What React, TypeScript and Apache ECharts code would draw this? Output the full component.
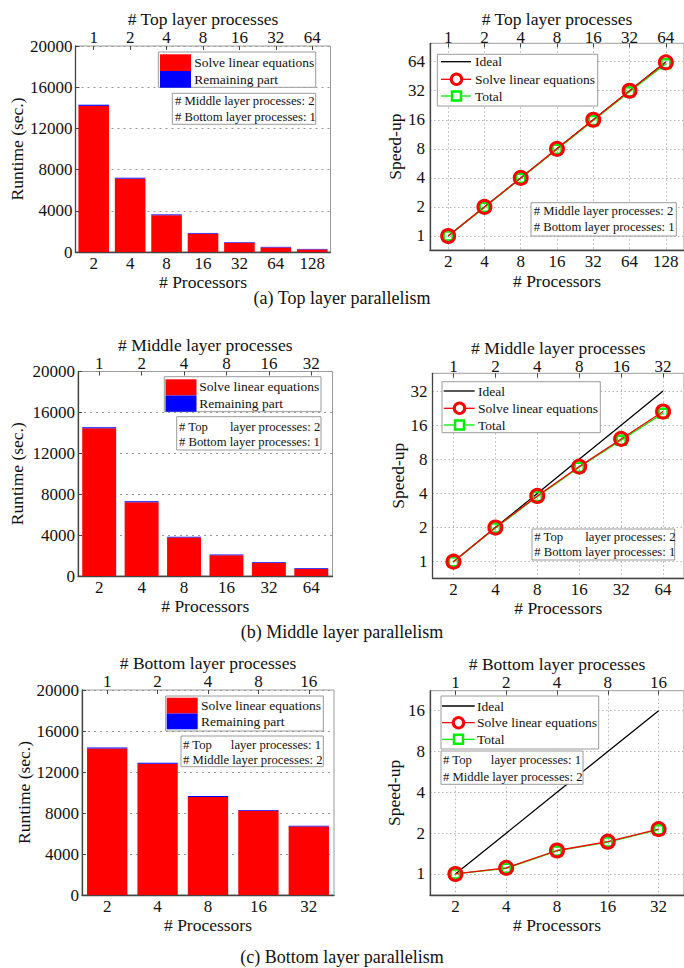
import React, { useEffect, useRef } from 'react';
import * as echarts from 'echarts';

const FONT = '"Liberation Serif", "Times New Roman", "DejaVu Serif", serif';

// ---------------- data ----------------
const processorsA = [2, 4, 8, 16, 32, 64, 128];
const topProcessesA = [1, 2, 4, 8, 16, 32, 64];
const solveRuntimeA = [14190, 7120, 3570, 1780, 890, 440, 250];
const remainingRuntimeA = [110, 90, 80, 70, 60, 60, 50];
const idealSpeedupA = [1, 2, 4, 8, 16, 32, 64];
const solveSpeedupA = [1, 2, 4, 8, 16, 32, 63];
const totalSpeedupA = [1, 1.98, 3.96, 7.9, 15.7, 31.3, 61];

const processorsB = [2, 4, 8, 16, 32, 64];
const middleProcessesB = [1, 2, 4, 8, 16, 32];
const solveRuntimeB = [14440, 7210, 3770, 2030, 1280, 690];
const remainingRuntimeB = [110, 90, 80, 70, 70, 60];
const idealSpeedupB = [1, 2, 4, 8, 16, 32];
const solveSpeedupB = [1, 2, 3.8, 6.9, 12.1, 21.1];
const totalSpeedupB = [1, 1.98, 3.75, 6.8, 11.8, 20.4];

const processorsC = [2, 4, 8, 16, 32];
const bottomProcessesC = [1, 2, 4, 8, 16];
const solveRuntimeC = [14290, 12800, 9560, 8220, 6680];
const remainingRuntimeC = [110, 100, 90, 80, 70];
const idealSpeedupC = [1, 2, 4, 8, 16];
const solveSpeedupC = [1, 1.11, 1.49, 1.73, 2.14];
const totalSpeedupC = [1, 1.1, 1.48, 1.72, 2.12];

const runtimeMax = 20000;
const runtimeStep = 4000;

const seriesNames = ['Solve linear equations', 'Remaining part', 'Ideal', 'Total'];
const topTitles = ['# Top layer processes', '# Middle layer processes', '# Bottom layer processes'];
const notes = [
  ['# Middle layer processes: 2', '# Bottom layer processes: 1'],
  ['# Top       layer processes: 2', '# Bottom layer processes: 1'],
  ['# Top      layer processes: 1', '# Middle layer processes: 2'],
];
const captions = ['(a) Top layer parallelism', '(b) Middle layer parallelism', '(c) Bottom layer parallelism'];

const panels = [
  { procs: processorsA, tops: topProcessesA, solveRt: solveRuntimeA, remRt: remainingRuntimeA, ideal: idealSpeedupA, solveSp: solveSpeedupA, totalSp: totalSpeedupA },
  { procs: processorsB, tops: middleProcessesB, solveRt: solveRuntimeB, remRt: remainingRuntimeB, ideal: idealSpeedupB, solveSp: solveSpeedupB, totalSp: totalSpeedupB },
  { procs: processorsC, tops: bottomProcessesC, solveRt: solveRuntimeC, remRt: remainingRuntimeC, ideal: idealSpeedupC, solveSp: solveSpeedupC, totalSp: totalSpeedupC },
];

// ---------------- layout ----------------
const layout = [
  {
    bar: { left: 75.5, top: 46, width: 255, height: 206 }, barWidth: '84%',
    barGap: { y: 50, x: 21, top: 16, topMargin: 0 },
    line: { left: 430, top: 43.3, width: 255.5, height: 206.7 }, yExp: [-0.482, 6.633],
    lineGap: { y: 26, x: 22, top: 9, topMargin: -3 },
    barLegend: { x: 158.3, y: 52, w: 157.4, h: 35.3, sx: 160, r1: 54.3, r2: 71, tx: 194.3, t1: 62.3, t2: 79.3 },
    barNote: { x: 172.3, y: 93.3, w: 143.4, h: 31, tx: 175, t1: 100.5, t2: 117 },
    lineLegend: { x: 437.3, y: 54.3, w: 160.4, h: 51.7, rows: [61.7, 79.3, 96], x0: 441, x1: 471, cx: 456.5, tx: 475 },
    lineNote: { x: 531, y: 202.7, w: 145.3, h: 33.3, tx: 533.7, t1: 210.7, t2: 227.3 },
    captionY: 298,
  },
  {
    bar: { left: 78, top: 371.5, width: 254.5, height: 204.5 }, barWidth: '80%',
    barGap: { y: 52, x: 20, top: 14, topMargin: 0 },
    line: { left: 432.5, top: 373.3, width: 254, height: 205 }, yExp: [-0.487, 5.52],
    lineGap: { y: 25, x: 16, top: 11, topMargin: -2 },
    barLegend: { x: 164.3, y: 376.7, w: 156.7, h: 35, sx: 165.5, r1: 379.3, r2: 395.5, tx: 199.3, t1: 386.7, t2: 403.3 },
    barNote: { x: 176.7, y: 416.7, w: 144.3, h: 33.3, tx: 179, t1: 426.7, t2: 441.7 },
    lineLegend: { x: 442, y: 381.7, w: 158.3, h: 51, rows: [391, 408.3, 425], x0: 443.7, x1: 474.7, cx: 459.5, tx: 478 },
    lineNote: { x: 532, y: 529, w: 142.7, h: 31, tx: 534.3, t1: 537.3, t2: 552.3 },
    captionY: 632,
  },
  {
    bar: { left: 82, top: 690, width: 252, height: 205 }, barWidth: '80%',
    barGap: { y: 48, x: 17, top: 14, topMargin: 0 },
    line: { left: 430, top: 690.7, width: 255.5, height: 204.3 }, yExp: [-0.515, 4.49],
    lineGap: { y: 27, x: 18, top: 14, topMargin: 0 },
    barLegend: { x: 165.7, y: 696, w: 157.6, h: 35, sx: 166.7, r1: 697.7, r2: 713.5, tx: 201, t1: 705.7, t2: 721.7 },
    barNote: { x: 181, y: 736, w: 142.3, h: 30.7, tx: 183, t1: 745, t2: 760 },
    lineLegend: { x: 441, y: 696, w: 157.7, h: 53, rows: [706, 722.7, 739.3], x0: 442, x1: 474.7, cx: 458.5, tx: 477 },
    lineNote: { x: 441, y: 751, w: 142, h: 33.3, tx: 443, t1: 760, t2: 776.7 },
    captionY: 957,
  },
];

const TXT = '#111';
const AXIS = '#444';
const BORDER = '#9a9a9a';

const labelStyle = (extra: any = {}) => ({ fontSize: 17, fontFamily: FONT, color: TXT, ...extra });
const nameStyle = { fontSize: 17.5, fontFamily: FONT, color: TXT };
const logFmt = (v: number) => String(Math.round(v));
const plainFmt = (v: number) => String(v);

function txt(x: number, y: number, text: string, size = 13.5, align = 'left') {
  return { type: 'text', x, y, z: 101, style: { text, fontSize: size, fontFamily: FONT, fill: TXT, align, verticalAlign: 'middle' } };
}
function box(x: number, y: number, w: number, h: number) {
  return { type: 'rect', z: 99, shape: { x, y, width: w, height: h }, style: { fill: '#fff', stroke: BORDER, lineWidth: 1 } };
}

function buildOption() {
  const grid: any[] = [];
  const xAxis: any[] = [];
  const yAxis: any[] = [];
  const series: any[] = [];
  const graphic: any[] = [];

  panels.forEach((p, i) => {
    const L = layout[i];
    // ---------- bar grid ----------
    const gb = grid.length;
    grid.push({ ...L.bar, show: true, borderColor: BORDER, borderWidth: 1, backgroundColor: 'transparent' });
    const xb = xAxis.length;
    xAxis.push({
      type: 'category', gridIndex: gb, position: 'bottom', data: p.procs.map(String),
      name: '# Processors', nameLocation: 'middle', nameGap: L.barGap.x, nameTextStyle: nameStyle,
      axisLine: { show: true, lineStyle: { color: AXIS, width: 1.3 } },
      axisTick: { show: false }, axisLabel: labelStyle({ margin: 3, interval: 0 }), splitLine: { show: false },
    });
    xAxis.push({
      type: 'category', gridIndex: gb, position: 'top', data: p.tops.map(String),
      name: topTitles[i], nameLocation: 'middle', nameGap: L.barGap.top, nameTextStyle: nameStyle,
      axisLine: { show: false },
      axisTick: { show: true, inside: true, alignWithLabel: true, length: 4, lineStyle: { color: AXIS } },
      axisLabel: labelStyle({ margin: L.barGap.topMargin, interval: 0 }), splitLine: { show: false },
    });
    const yb = yAxis.length;
    yAxis.push({
      type: 'value', gridIndex: gb, min: 0, max: runtimeMax, interval: runtimeStep,
      name: 'Runtime (sec.)', nameLocation: 'middle', nameGap: L.barGap.y, nameTextStyle: nameStyle,
      axisLine: { show: true, lineStyle: { color: AXIS, width: 1.3 } },
      axisTick: { show: true, inside: true, length: 4, lineStyle: { color: AXIS } },
      axisLabel: labelStyle({ margin: 3, formatter: plainFmt }),
      splitLine: { show: true, lineStyle: { color: '#999', type: [2, 4], width: 1 } },
    });
    series.push({
      type: 'bar', name: seriesNames[0], xAxisIndex: xb, yAxisIndex: yb, stack: 'rt' + i,
      data: p.solveRt, barWidth: L.barWidth, itemStyle: { color: '#ff0000' },
    });
    series.push({
      type: 'bar', name: seriesNames[1], xAxisIndex: xb, yAxisIndex: yb, stack: 'rt' + i,
      data: p.remRt, barWidth: L.barWidth, itemStyle: { color: '#0000ff' },
    });

    // ---------- speed-up grid ----------
    const gl = grid.length;
    grid.push({ ...L.line, show: true, borderColor: BORDER, borderWidth: 1, backgroundColor: 'transparent' });
    const n = p.procs.length;
    const xl = xAxis.length;
    xAxis.push({
      type: 'log', logBase: 2, gridIndex: gl, position: 'bottom',
      min: Math.pow(2, Math.log2(p.procs[0]) - 0.5), max: Math.pow(2, Math.log2(p.procs[n - 1]) + 0.5),
      name: '# Processors', nameLocation: 'middle', nameGap: L.lineGap.x, nameTextStyle: nameStyle,
      axisLine: { show: true, lineStyle: { color: AXIS, width: 1.3 } },
      axisTick: { show: false },
      axisLabel: labelStyle({ margin: 3, formatter: logFmt, showMinLabel: false, showMaxLabel: false }),
      splitLine: { show: true, lineStyle: { color: '#b5b5b5', type: [1.5, 2.5], width: 1 } },
    });
    xAxis.push({
      type: 'log', logBase: 2, gridIndex: gl, position: 'top',
      min: Math.pow(2, Math.log2(p.tops[0]) - 0.5), max: Math.pow(2, Math.log2(p.tops[n - 1]) + 0.5),
      name: topTitles[i], nameLocation: 'middle', nameGap: L.lineGap.top, nameTextStyle: nameStyle,
      axisLine: { show: false },
      axisTick: { show: true, inside: true, length: 4, lineStyle: { color: AXIS } },
      axisLabel: labelStyle({ margin: L.lineGap.topMargin, formatter: logFmt, showMinLabel: false, showMaxLabel: false }),
      splitLine: { show: false },
    });
    const yl = yAxis.length;
    yAxis.push({
      type: 'log', logBase: 2, gridIndex: gl,
      min: Math.pow(2, L.yExp[0]), max: Math.pow(2, L.yExp[1]),
      name: 'Speed-up', nameLocation: 'middle', nameGap: L.lineGap.y, nameTextStyle: nameStyle,
      axisLine: { show: true, lineStyle: { color: AXIS, width: 1.3 } },
      axisTick: { show: false },
      axisLabel: labelStyle({ margin: 5, formatter: logFmt, showMinLabel: false, showMaxLabel: false }),
      splitLine: { show: true, lineStyle: { color: '#b5b5b5', type: [1.5, 2.5], width: 1 } },
    });
    const pts = (vals: number[]) => p.procs.map((x, k) => [x, vals[k]]);
    series.push({
      type: 'line', name: seriesNames[2], xAxisIndex: xl, yAxisIndex: yl, data: pts(p.ideal),
      symbol: 'none', lineStyle: { color: '#000', width: 1.3 }, itemStyle: { color: '#000' },
    });
    series.push({
      type: 'line', name: seriesNames[3], xAxisIndex: xl, yAxisIndex: yl, data: pts(p.totalSp),
      symbol: 'rect', symbolSize: 9, lineStyle: { color: '#00ee00', width: 1.3 },
      itemStyle: { color: 'rgba(255,255,255,0)', borderColor: '#00ee00', borderWidth: 2.5 },
    });
    series.push({
      type: 'line', name: seriesNames[0], xAxisIndex: xl, yAxisIndex: yl, data: pts(p.solveSp),
      symbol: 'circle', symbolSize: 13, lineStyle: { color: '#ff0000', width: 1.3 },
      itemStyle: { color: 'rgba(255,255,255,0)', borderColor: '#ff0000', borderWidth: 3 },
    });

    // ---------- legends & notes ----------
    const B = L.barLegend;
    graphic.push(box(B.x, B.y, B.w, B.h));
    graphic.push({ type: 'rect', z: 100, shape: { x: B.sx, y: B.r1, width: 31, height: B.r2 - B.r1 }, style: { fill: '#ff0000' } });
    graphic.push({ type: 'rect', z: 100, shape: { x: B.sx, y: B.r2, width: 31, height: B.r2 - B.r1 }, style: { fill: '#0000ff' } });
    graphic.push(txt(B.tx, B.t1, seriesNames[0]));
    graphic.push(txt(B.tx, B.t2, seriesNames[1]));
    const N = L.barNote;
    graphic.push(box(N.x, N.y, N.w, N.h));
    graphic.push(txt(N.tx, N.t1, notes[i][0], 12.7));
    graphic.push(txt(N.tx, N.t2, notes[i][1], 12.7));

    const G = L.lineLegend;
    graphic.push(box(G.x, G.y, G.w, G.h));
    graphic.push({ type: 'line', z: 100, shape: { x1: G.x0, y1: G.rows[0], x2: G.x1, y2: G.rows[0] }, style: { stroke: '#000', lineWidth: 1.3 } });
    graphic.push({ type: 'line', z: 100, shape: { x1: G.x0, y1: G.rows[1], x2: G.x1, y2: G.rows[1] }, style: { stroke: '#ff0000', lineWidth: 1.3 } });
    graphic.push({ type: 'circle', z: 101, shape: { cx: G.cx, cy: G.rows[1], r: 5.2 }, style: { fill: '#fff', stroke: '#ff0000', lineWidth: 3 } });
    graphic.push({ type: 'line', z: 100, shape: { x1: G.x0, y1: G.rows[2], x2: G.x1, y2: G.rows[2] }, style: { stroke: '#00ee00', lineWidth: 1.3 } });
    graphic.push({ type: 'rect', z: 101, shape: { x: G.cx - 4.5, y: G.rows[2] - 4.5, width: 9, height: 9 }, style: { fill: '#fff', stroke: '#00ee00', lineWidth: 2.5 } });
    graphic.push(txt(G.tx, G.rows[0], seriesNames[2]));
    graphic.push(txt(G.tx, G.rows[1], seriesNames[0]));
    graphic.push(txt(G.tx, G.rows[2], seriesNames[3]));
    const M = L.lineNote;
    graphic.push(box(M.x, M.y, M.w, M.h));
    graphic.push(txt(M.tx, M.t1, notes[i][0], 12.7));
    graphic.push(txt(M.tx, M.t2, notes[i][1], 12.7));

    graphic.push(txt(342, L.captionY, captions[i], 18, 'center'));
  });

  return { animation: false, backgroundColor: '#fff', grid, xAxis, yAxis, series, graphic };
}

export default function App() {
  const ref = useRef<HTMLDivElement>(null);
  useEffect(() => {
    document.body.style.margin = '0';
    if (!ref.current) return;
    const chart = echarts.init(ref.current, undefined, { renderer: 'svg' });
    chart.setOption(buildOption() as any);
    return () => chart.dispose();
  }, []);
  return <div ref={ref} style={{ width: 684, height: 968, overflow: 'hidden' }} />;
}
